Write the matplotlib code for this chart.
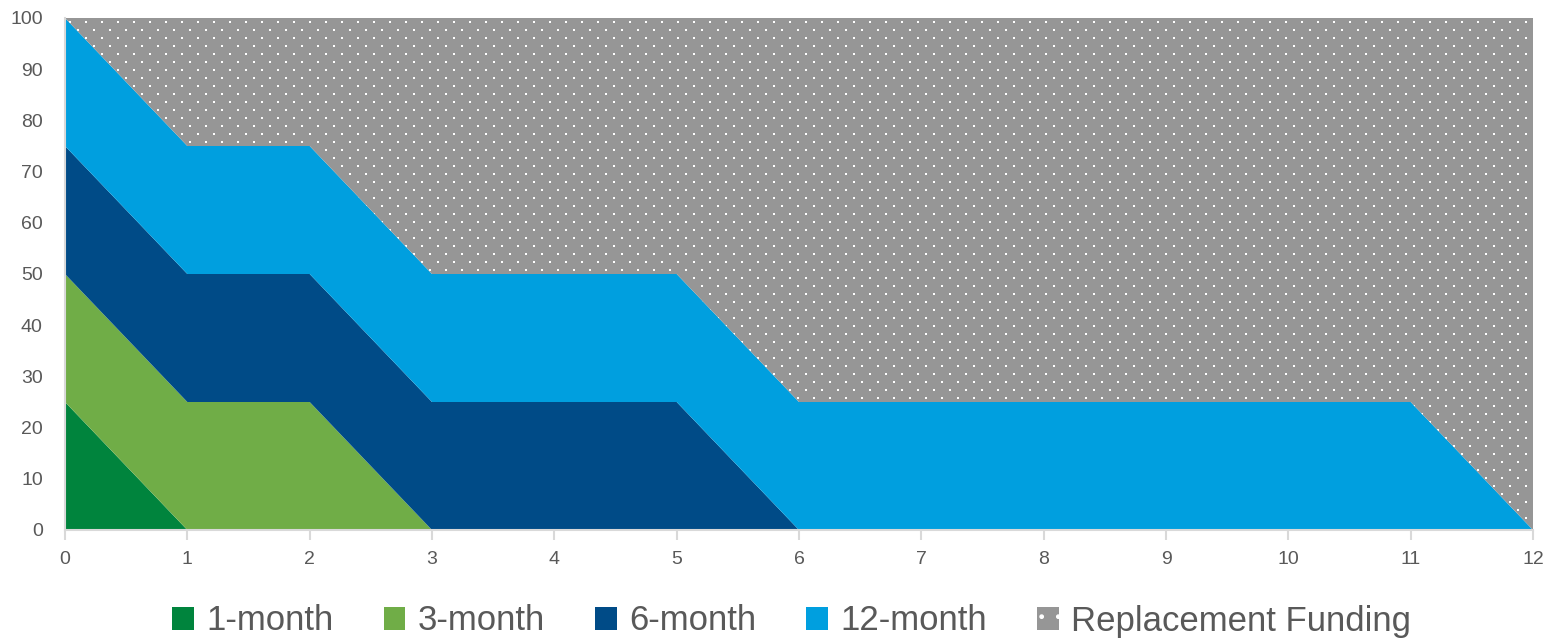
import numpy as np
import matplotlib.pyplot as plt
from matplotlib.patches import Patch

plt.rcParams['font.family'] = ['Liberation Sans', 'DejaVu Sans']
plt.rcParams['hatch.color'] = 'white'

months = np.arange(0, 13)
one_month = [25, 0, 0, 0, 0, 0, 0, 0, 0, 0, 0, 0, 0]
three_month = [25, 25, 25, 0, 0, 0, 0, 0, 0, 0, 0, 0, 0]
six_month = [25, 25, 25, 25, 25, 25, 0, 0, 0, 0, 0, 0, 0]
twelve_month = [25, 25, 25, 25, 25, 25, 25, 25, 25, 25, 25, 25, 0]
replacement = [100 - a - b - c - d for a, b, c, d in
               zip(one_month, three_month, six_month, twelve_month)]

labels = ['1-month', '3-month', '6-month', '12-month', 'Replacement Funding']
colors = ['#00843D', '#70AD47', '#004B87', '#009FDF', '#969696']
text_col = '#595959'

W, H, DPI = 1553, 643, 100
fig = plt.figure(figsize=(W / DPI, H / DPI), dpi=DPI)
ax_px = (65, 18, 1533, 530)  # left, top, right, bottom in pixels
ax = fig.add_axes([ax_px[0] / W, 1 - ax_px[3] / H,
                   (ax_px[2] - ax_px[0]) / W, (ax_px[3] - ax_px[1]) / H])

polys = ax.stackplot(months, one_month, three_month, six_month, twelve_month,
                     replacement, colors=colors, linewidth=0)

ax.set_xlim(0, 12)
ax.set_ylim(0, 100)

# dotted texture for the replacement band: white 2px dots on a staggered lattice
pw, ph = ax_px[2] - ax_px[0], ax_px[3] - ax_px[1]
tex = np.zeros((ph, pw, 4))
yy, xx = np.mgrid[0:ph, 0:pw]
row = (yy - 3) // 8
on = ((yy - 3) % 8 < 2) & (((xx - 4 - (row % 2) * 8) % 16) < 2)
tex[on] = [1, 1, 1, 1]
im = ax.imshow(tex, extent=(0, 12, 0, 100), aspect='auto',
               interpolation='nearest', zorder=3)
im.set_clip_path(polys[-1].get_paths()[0], transform=ax.transData)

ax.set_xticks(range(0, 13))
ax.set_yticks(range(0, 101, 10))
ax.tick_params(axis='x', colors='#D9D9D9', length=7, width=1.5, labelcolor=text_col,
               labelsize=14, pad=8)
ax.tick_params(axis='y', length=0, labelcolor=text_col, labelsize=14, pad=16)
for s in ['top', 'right']:
    ax.spines[s].set_visible(False)
for s in ['left', 'bottom']:
    ax.spines[s].set_color('#D9D9D9')
    ax.spines[s].set_linewidth(1.5)
    ax.spines[s].set_zorder(4)

handles = [Patch(facecolor=c, edgecolor='none') for c in colors[:-1]]
handles.append(Patch(facecolor=colors[-1], edgecolor='white', hatch='.', linewidth=0))
fig.legend(handles, labels, loc='center', bbox_to_anchor=(791.5 / W, 1 - 621 / H), ncol=5,
           frameon=False, fontsize=25, labelcolor=text_col,
           handlelength=0.63, handleheight=0.63, handletextpad=0.35,
           columnspacing=1.44)

fig.savefig('out.png', dpi=DPI)
